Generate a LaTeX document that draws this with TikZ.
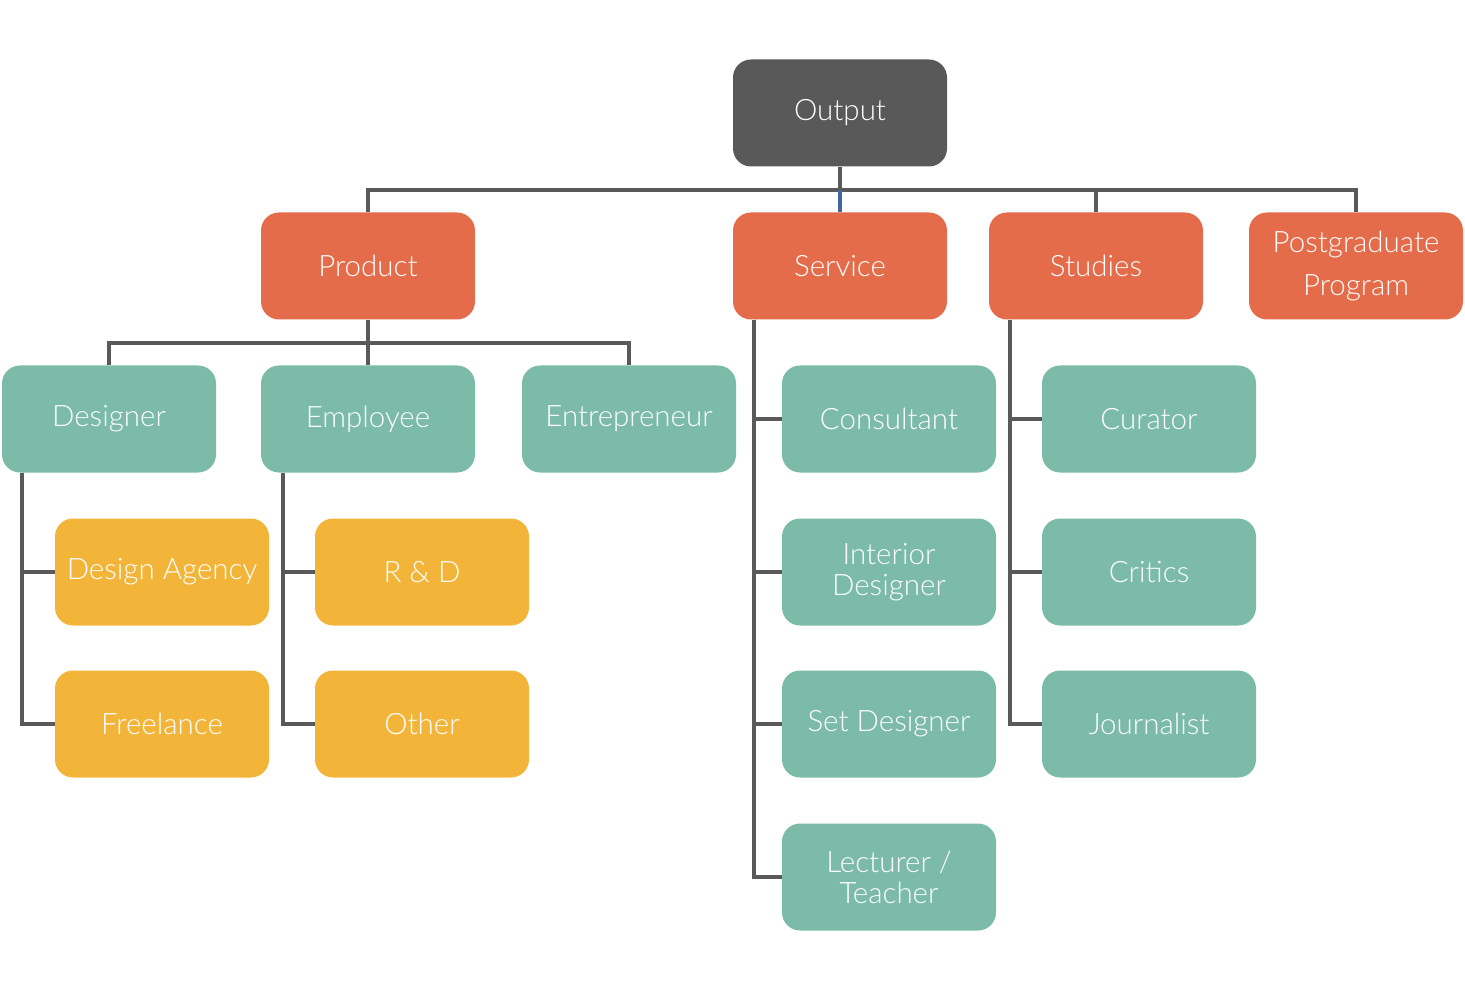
\documentclass[tikz,border=0pt]{standalone}
\usepackage{fontspec}
\setmainfont{Lato}[UprightFont=* Light]
\definecolor{darkbox}{HTML}{595959}
\definecolor{orangebox}{HTML}{E46C4A}
\definecolor{tealbox}{HTML}{7BBBA7}
\definecolor{yellowbox}{HTML}{F2B53A}
\definecolor{linkgray}{HTML}{595959}
\definecolor{linkblue}{HTML}{4169A0}
\begin{document}
\begin{tikzpicture}[x=1pt,y=-1pt,
    box/.style={rounded corners=18pt,minimum width=214pt,minimum height=107pt,
      inner sep=0pt,align=center,text=white,font=\fontsize{29.5}{31}\selectfont},
    topbox/.style={box,fill=darkbox},
    mainbox/.style={box,fill=orangebox},
    subbox/.style={box,fill=tealbox},
    leafbox/.style={box,fill=yellowbox},
    link/.style={draw=linkgray,line width=4pt}]
      \useasboundingbox (0,0) rectangle (1465,992);

      \node[topbox]  (output)  at (840,113)  {Output};

      \node[mainbox] (product) at (368,266)  {Product};
      \node[mainbox] (service) at (840,266)  {Service};
      \node[mainbox] (studies) at (1096,266) {Studies};
      \node[mainbox,font=\fontsize{29.5}{43}\selectfont] (postgrad) at (1356,266) {Postgraduate\\Program};

      \node[subbox]  (designer) at (109,419) {Designer};
      \node[subbox]  (employee) at (368,419) {Employee};
      \node[subbox]  (entre)    at (629,419) {Entrepreneur};

      \node[leafbox] (agency)    at (162,572) {Design Agency};
      \node[leafbox] (freelance) at (162,724) {Freelance};
      \node[leafbox] (rnd)       at (422,572) {R \& D};
      \node[leafbox] (other)     at (422,724) {Other};

      \node[subbox]  (consult)  at (889,419) {Consultant};
      \node[subbox]  (interior) at (889,572) {Interior\\Designer};
      \node[subbox]  (setdes)   at (889,724) {Set Designer};
      \node[subbox]  (lecturer) at (889,877) {Lecturer /\\Teacher};

      \node[subbox]  (curator)    at (1149,419) {Curator};
      \node[subbox]  (critics)    at (1149,572) {Critics};
      \node[subbox]  (journalist) at (1149,724) {Journalist};

      % output -> first row
      \coordinate (bar) at (840,190);
      \draw[link] (output) -- (bar);
      \draw[link] (product) |- (bar) -| (postgrad);
      \draw[link] (bar) -| (studies);
      \draw[draw=linkblue,line width=4pt] (bar) -- (service);

      % product -> second row
      \coordinate (pbar) at (368,343);
      \draw[link] (product) -- (pbar);
      \draw[link] (designer) |- (pbar) -| (entre);
      \draw[link] (employee) -- (pbar);

      % side links
      \draw[link] ([xshift=20pt]designer.south west) |- (agency.west);
      \draw[link] ([xshift=20pt]designer.south west) |- (freelance.west);
      \draw[link] ([xshift=22pt]employee.south west) |- (rnd.west);
      \draw[link] ([xshift=22pt]employee.south west) |- (other.west);
      \foreach \n in {consult,interior,setdes,lecturer}
        \draw[link] ([xshift=21pt]service.south west) |- (\n.west);
      \foreach \n in {curator,critics,journalist}
        \draw[link] ([xshift=21pt]studies.south west) |- (\n.west);
    \end{tikzpicture}
\end{document}
